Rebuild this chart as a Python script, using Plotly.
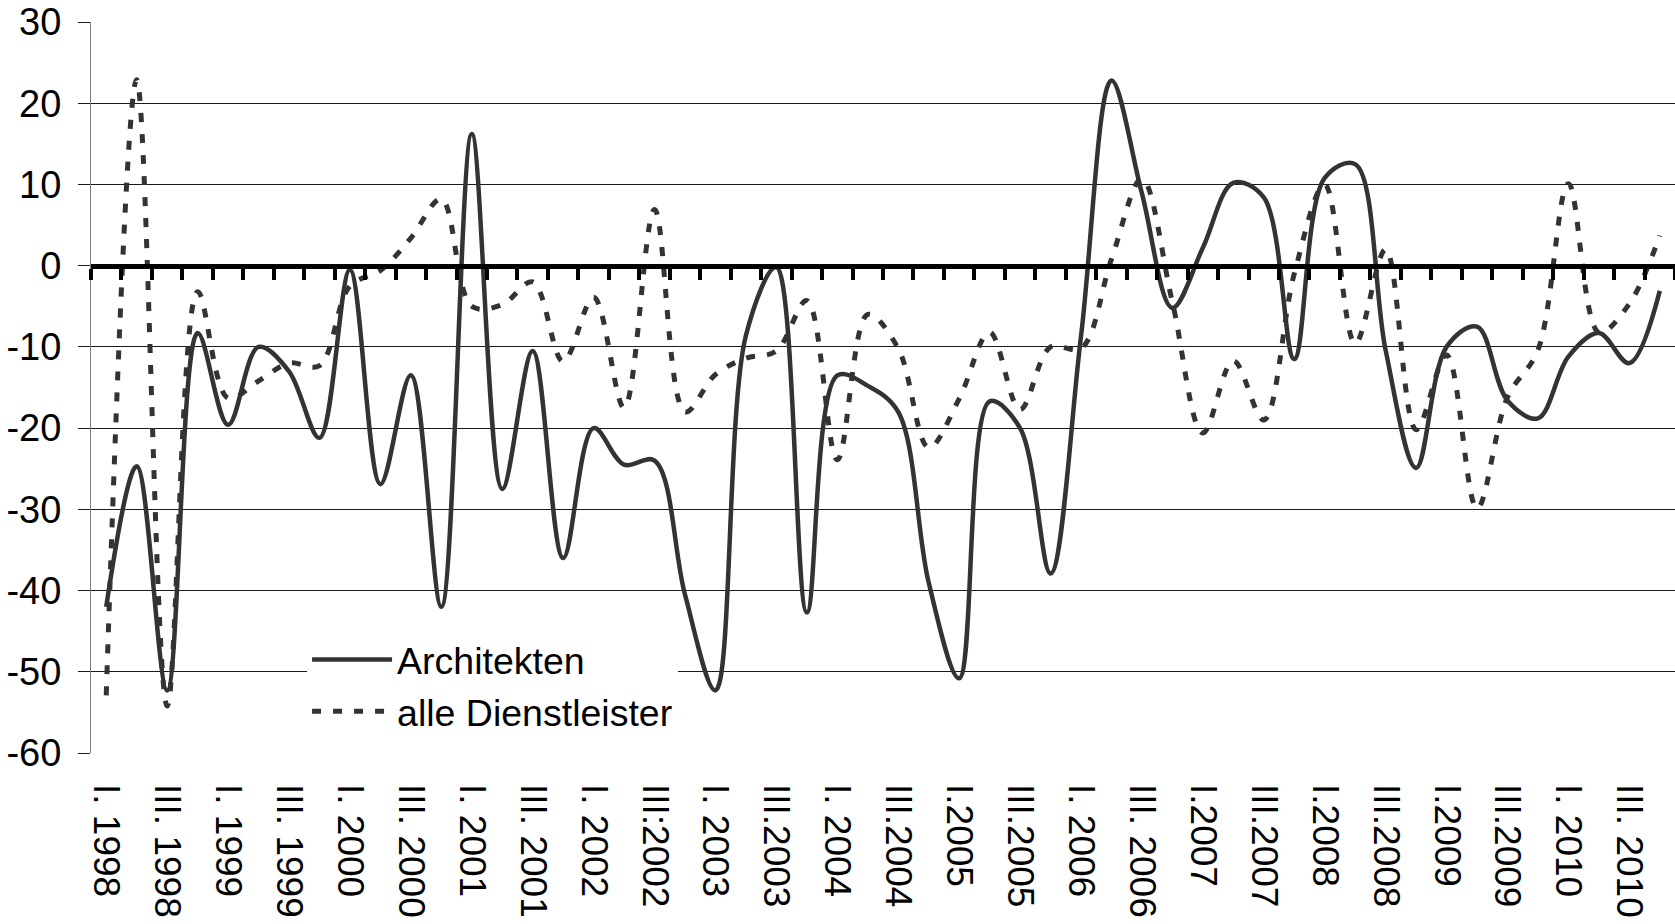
import plotly.graph_objects as go

quarters = list(range(52))
tick_labels = ["I. 1998", "III. 1998", "I. 1999", "III. 1999", "I. 2000", "III. 2000",
               "I. 2001", "III. 2001", "I. 2002", "III:2002", "I. 2003", "III.2003",
               "I. 2004", "III.2004", "I.2005", "III.2005", "I. 2006", "III. 2006",
               "I.2007", "III.2007", "I.2008", "III.2008", "I.2009", "III.2009",
               "I. 2010", "III. 2010"]
tick_positions = list(range(0, 52, 2))
y_tick_values = [30, 20, 10, 0, -10, -20, -30, -40, -50, -60]
y_tick_labels = ["30", "20", "10", "0", "-10", "-20", "-30", "-40", "-50", "-60"]

architekten = [-42, -24.7, -52.3, -8.3, -19.6, -10, -13, -21.2, -0.5, -26.9,
               -13.5, -42, 16.2, -27.5, -10.5, -36, -20, -24.5, -24, -40.5,
               -52.3, -8.6, -0.2, -42.7, -13.5, -14.8, -18, -39, -50.8, -16.7,
               -20, -37.9, -8.7, 22.8, 8.9, -5.2, 2.2, 10.2, 8.4, -11.5,
               10.8, 12.5, -10.4, -24.9, -10, -7.5, -16.6, -18.8, -11.2, -8.3,
               -12, -3.1]
dienstleister = [-52.9, 22.9, -54.2, -3.2, -16.3, -14.2, -12, -12.3, -2.5, -0.6,
                 3.4, 8.2, -5, -4.8, -2, -11.8, -3.9, -17.5, 6.9, -18,
                 -13.4, -11.4, -10.5, -4.3, -23.9, -6, -10.2, -22.4, -16.4, -8.2,
                 -17.7, -10, -10.2, 0.8, 10.7, -4.5, -20.6, -11.7, -19, -1,
                 10, -9.6, 2, -20.2, -11, -29.9, -16.2, -10.4, 10.1, -8.2,
                 -4.7, 3.7]

boundaries = [q - 0.5 for q in range(53)]
FONT = "Liberation Sans, Arial, sans-serif"
LINE_COLOR = "#333333"

fig = go.Figure()
fig.add_trace(go.Scatter(
    x=quarters, y=architekten, name="Architekten", mode="lines",
    line=dict(color=LINE_COLOR, width=4.5, shape="spline", smoothing=1.0),
))
fig.add_trace(go.Scatter(
    x=quarters, y=dienstleister, name="alle Dienstleister", mode="lines",
    line=dict(color=LINE_COLOR, width=5, shape="spline", smoothing=1.0, dash="9px,12px"),
))
# dummy trace on xaxis2 so the zero-line axis is drawn
fig.add_trace(go.Scatter(x=[None], y=[None], xaxis="x2", showlegend=False, hoverinfo="skip"))

fig.update_layout(
    width=1675, height=924,
    margin=dict(l=91, r=0, t=22, b=171),
    paper_bgcolor="white", plot_bgcolor="white",
    font=dict(family=FONT, size=37, color="black"),
    showlegend=True,
    legend=dict(
        x=0.1364, y=0.17, xanchor="left", yanchor="top",
        bgcolor="white", borderwidth=0,
        font=dict(family=FONT, size=37.5, color="black"),
        itemwidth=80, tracegroupgap=0,
    ),
    xaxis=dict(
        range=[-0.5, 51.5], tickmode="array", tickvals=tick_positions, ticktext=tick_labels,
        tickangle=90, showgrid=False, zeroline=False, showline=False, ticks="",
        tickfont=dict(family=FONT, size=37, color="black"),
        ticklabelstandoff=30,
    ),
    xaxis2=dict(
        range=[-0.5, 51.5], overlaying="x", anchor="free", position=60 / 90, side="bottom",
        tickmode="array", tickvals=boundaries, showticklabels=False,
        ticks="outside", ticklen=11, tickwidth=4, tickcolor="black",
        showline=True, linewidth=5, linecolor="black", showgrid=False, zeroline=False,
    ),
    yaxis=dict(
        range=[-60, 30], tickmode="array", tickvals=y_tick_values, ticktext=y_tick_labels,
        showgrid=True, gridcolor="#1a1a1a", gridwidth=1,
        zeroline=False, showline=True, linecolor="#808080", linewidth=1,
        ticks="outside", ticklen=12, tickcolor="#1a1a1a", tickwidth=1,
        tickfont=dict(family=FONT, size=38, color="black"),
        ticklabelstandoff=9,
    ),
)

fig.write_html("out.html", config={"displayModeBar": False},
               post_script="document.body.style.margin='0';")
